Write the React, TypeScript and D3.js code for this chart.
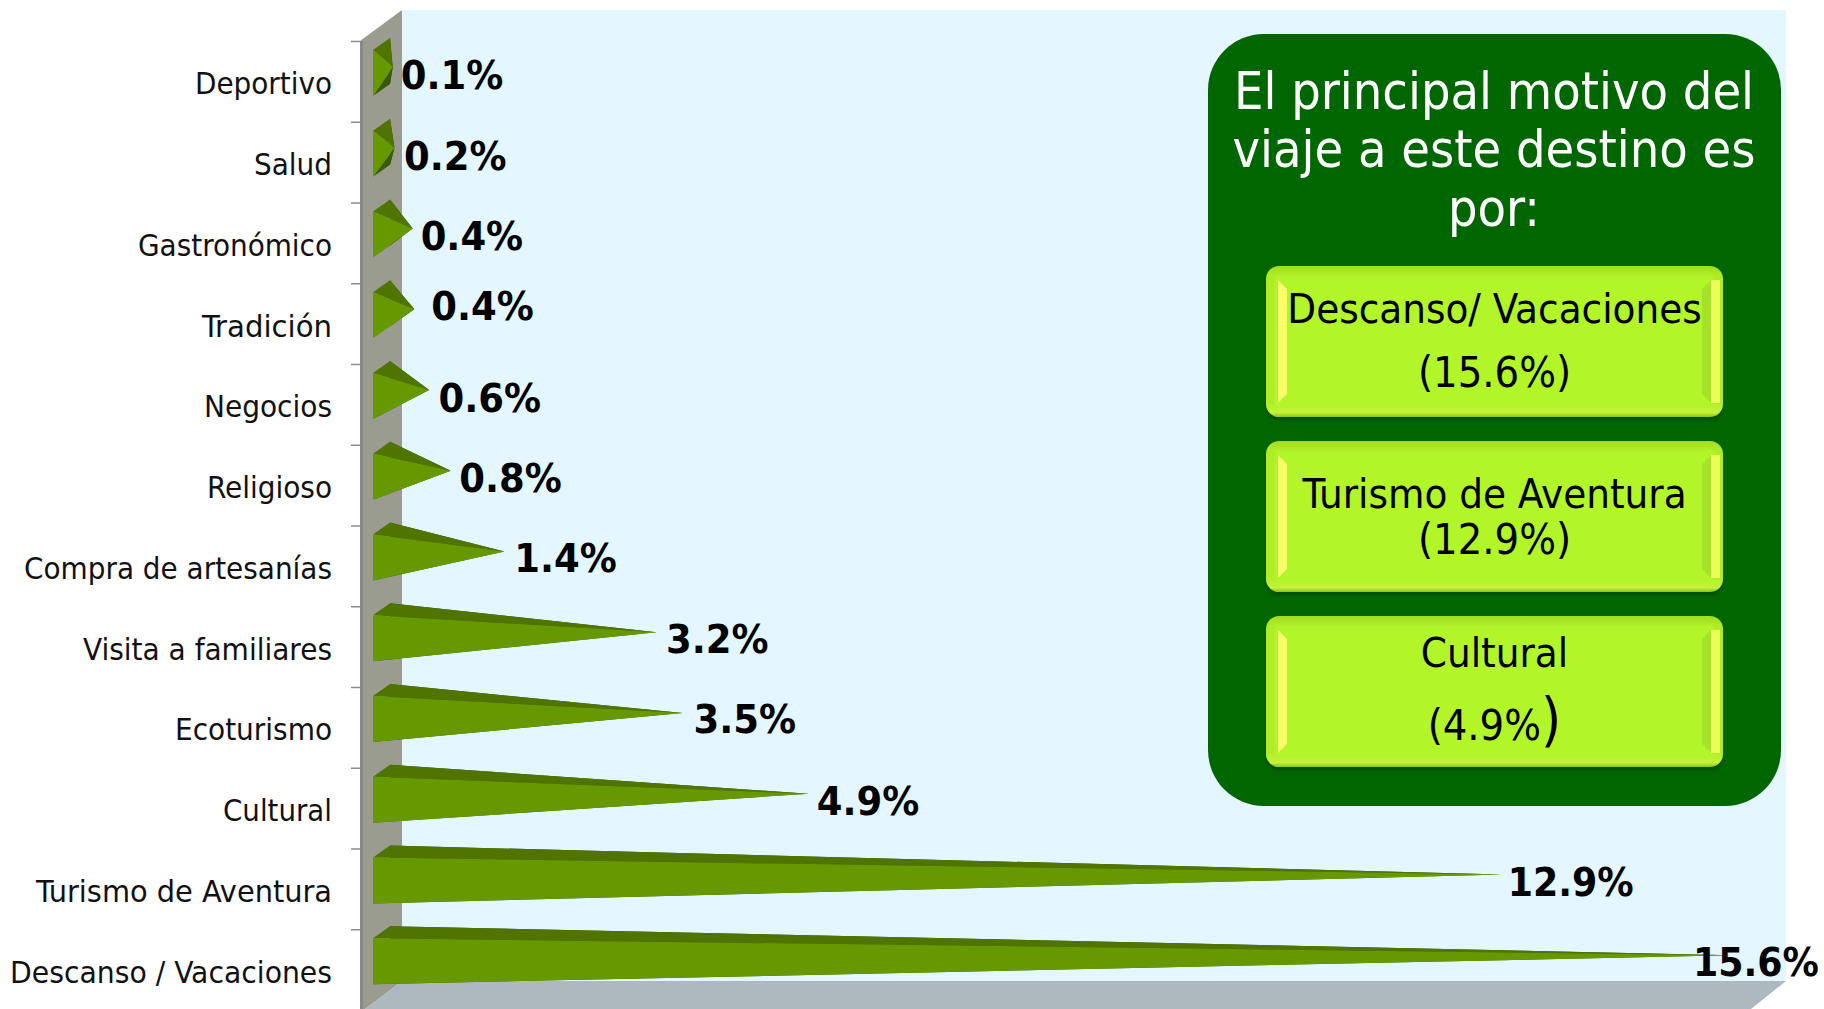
import React from "react";
import * as d3 from "d3";

const categories = ["Deportivo","Salud","Gastronómico","Tradición","Negocios","Religioso","Compra de artesanías","Visita a familiares","Ecoturismo","Cultural","Turismo de Aventura","Descanso / Vacaciones"];
const values = [0.13,0.15,0.36,0.38,0.55,0.8,1.42,3.18,3.48,4.94,12.95,15.6];
const valueLabels = ["0.1%","0.2%","0.4%","0.4%","0.6%","0.8%","1.4%","3.2%","3.5%","4.9%","12.9%","15.6%"];
const panelTitle = ["El principal motivo del","viaje a este destino es","por:"];
const panelItems = [["Descanso/ Vacaciones","(15.6%)"],["Turismo de Aventura","(12.9%)"],["Cultural","(4.9%"]];

const labelDx = [8,9.5,8,17,9.5,8.5,10,9.5,11,8,6,-38];
const labelDy = [7.5,8,7.5,-3,8,7,6.5,7,6,7,7.5,7];
const labelWidths = [137,78,194,130,128,125,308,249,157,109,296,322];
const W = 1824, H = 1009;
const FONT = "'DejaVu Sans Condensed','DejaVu Sans',sans-serif";
const DEPTH_X = 17, DEPTH_Y = 12, BAR_H = 46, BAR_X = 373, BAND_PAD = 8.5;

const x = d3.scaleLinear().domain([0, 15.6]).range([BAR_X + DEPTH_X / 2, 1731]);
const y = d3.scaleBand<string>().domain(categories).range([41.5, 1010.5]);
const poly = (pts: [number, number][]) => d3.line()(pts) + "Z";

const buttons = [
  { y: 266, t1: 323, t2: 387 },
  { y: 441, t1: 508, t2: 554 },
  { y: 616, t1: 667, t2: 740 },
];
const BTN_X = 1266, BTN_W = 457, BTN_H = 151;

function Button({ b, item }: any) {
  const l = BTN_X, r = BTN_X + BTN_W, t = b.y, bot = b.y + BTN_H;
  return (
    <g>
      <rect x={l} y={t + 3} width={BTN_W} height={BTN_H} rx={13} fill="#003f00" opacity={0.6} filter="url(#soft)" />
      <rect x={l} y={t} width={BTN_W} height={BTN_H} rx={13} fill="url(#btnRim)" />
      <rect x={l + 9} y={t + 10} width={BTN_W - 18} height={BTN_H - 20} fill="#b2f629" filter="url(#soft)" />
      <path d={poly([[l + 12, t + 14], [l + 21, t + 23], [l + 21, bot - 23], [l + 12, bot - 14]])} fill="#f8ff6a" />
      <path d={poly([[r - 21, t + 23], [r - 12, t + 14], [r - 12, bot - 14], [r - 21, bot - 23]])} fill="#a6e227" />
      <path d={poly([[r - 12, t + 14], [r - 3, t + 14], [r - 3, bot - 14], [r - 12, bot - 14]])} fill="#eaff58" />
      <text x={l + BTN_W / 2} y={b.t1} textAnchor="middle" fontSize={41.6} fontFamily={FONT} fill="#000">{item[0]}</text>
      <text x={l + BTN_W / 2} y={b.t2} textAnchor="middle" fontSize={43} fontFamily={FONT} fill="#000">
        {item[1]}{item[1].endsWith(")") ? null : <tspan fontSize={58}>)</tspan>}
      </text>
    </g>
  );
}

export default function App() {
  return (
    <svg width={W} height={H} viewBox={`0 0 ${W} ${H}`} style={{ position: "absolute", left: 0, top: 0, display: "block" }}>
      <defs>
        <linearGradient id="btnRim" x1="0" y1="0" x2="0" y2="1">
          <stop offset="0" stopColor="#a3dc22" />
          <stop offset="0.06" stopColor="#aeec26" />
          <stop offset="0.9" stopColor="#aeec26" />
          <stop offset="0.97" stopColor="#c4f43a" />
          <stop offset="1" stopColor="#8fc41c" />
        </linearGradient>
        <filter id="soft" x="-5%" y="-10%" width="110%" height="120%">
          <feGaussianBlur stdDeviation="1.5" />
        </filter>
      </defs>
      <rect width={W} height={H} fill="#fff" />
      <rect x={402} y={10} width={1384} height={971} fill="#e4f6ff" />
      <path d={poly([[402, 981], [1786, 981], [1751, 1009], [365, 1009]])} fill="#aeb9bf" />
      <path d={poly([[360, 41], [402, 10], [402, 981], [365, 1009], [360, 1009]])} fill="#9a9c90" />
      <rect x={360} y={41} width={3} height={968} fill="#87888a" />
      {categories.map((c) => (
        <line key={c} x1={351} x2={360} y1={y(c)!} y2={y(c)!} stroke="#8c8c8c" strokeWidth={1.5} />
      ))}
      {categories.map((c, i) => {
        const ya = y(c)! + BAND_PAD;
        const A: [number, number] = [BAR_X, ya];
        const B: [number, number] = [BAR_X, ya + BAR_H];
        const C: [number, number] = [BAR_X + DEPTH_X, ya - DEPTH_Y];
        const D: [number, number] = [BAR_X + DEPTH_X, ya + BAR_H - DEPTH_Y];
        const P: [number, number] = [x(values[i]), ya + (BAR_H - DEPTH_Y) / 2];
        return (
          <g key={c}>
            <path d={poly([C, D, P])} fill="#3a5a00" />
            <path d={poly([B, D, P])} fill="#3a5a00" />
            <path d={poly([A, C, P])} fill="#4f7500" />
            <path d={poly([A, B, P])} fill="#669900" />
          </g>
        );
      })}
      {categories.map((c, i) => (
        <text key={c} x={332} y={y(c)! + y.bandwidth() / 2 + 12.5} textAnchor="end" fontSize={31} fontFamily={FONT} fill="#111" textLength={labelWidths[i]} lengthAdjust="spacingAndGlyphs">{c}</text>
      ))}
      <rect x={1208} y={34} width={573} height={772} rx={56} fill="#006600" />
      {panelTitle.map((t, i) => (
        <text key={t} x={1494} y={108.5 + i * 58.5} textAnchor="middle" fontSize={51.8} fontFamily={FONT} fill="#fff">{t}</text>
      ))}
      {buttons.map((b, i) => <Button key={i} b={b} item={panelItems[i]} />)}
      {categories.map((c, i) => {
        const py = y(c)! + BAND_PAD + (BAR_H - DEPTH_Y) / 2;
        return (
          <text key={c} x={x(values[i]) + labelDx[i]} y={py + labelDy[i] + 14} fontSize={39.5} fontWeight="bold" fontFamily={FONT} fill="#000" textLength={valueLabels[i].length > 4 ? 126 : 102.5} lengthAdjust="spacingAndGlyphs">{valueLabels[i]}</text>
        );
      })}
    </svg>
  );
}
